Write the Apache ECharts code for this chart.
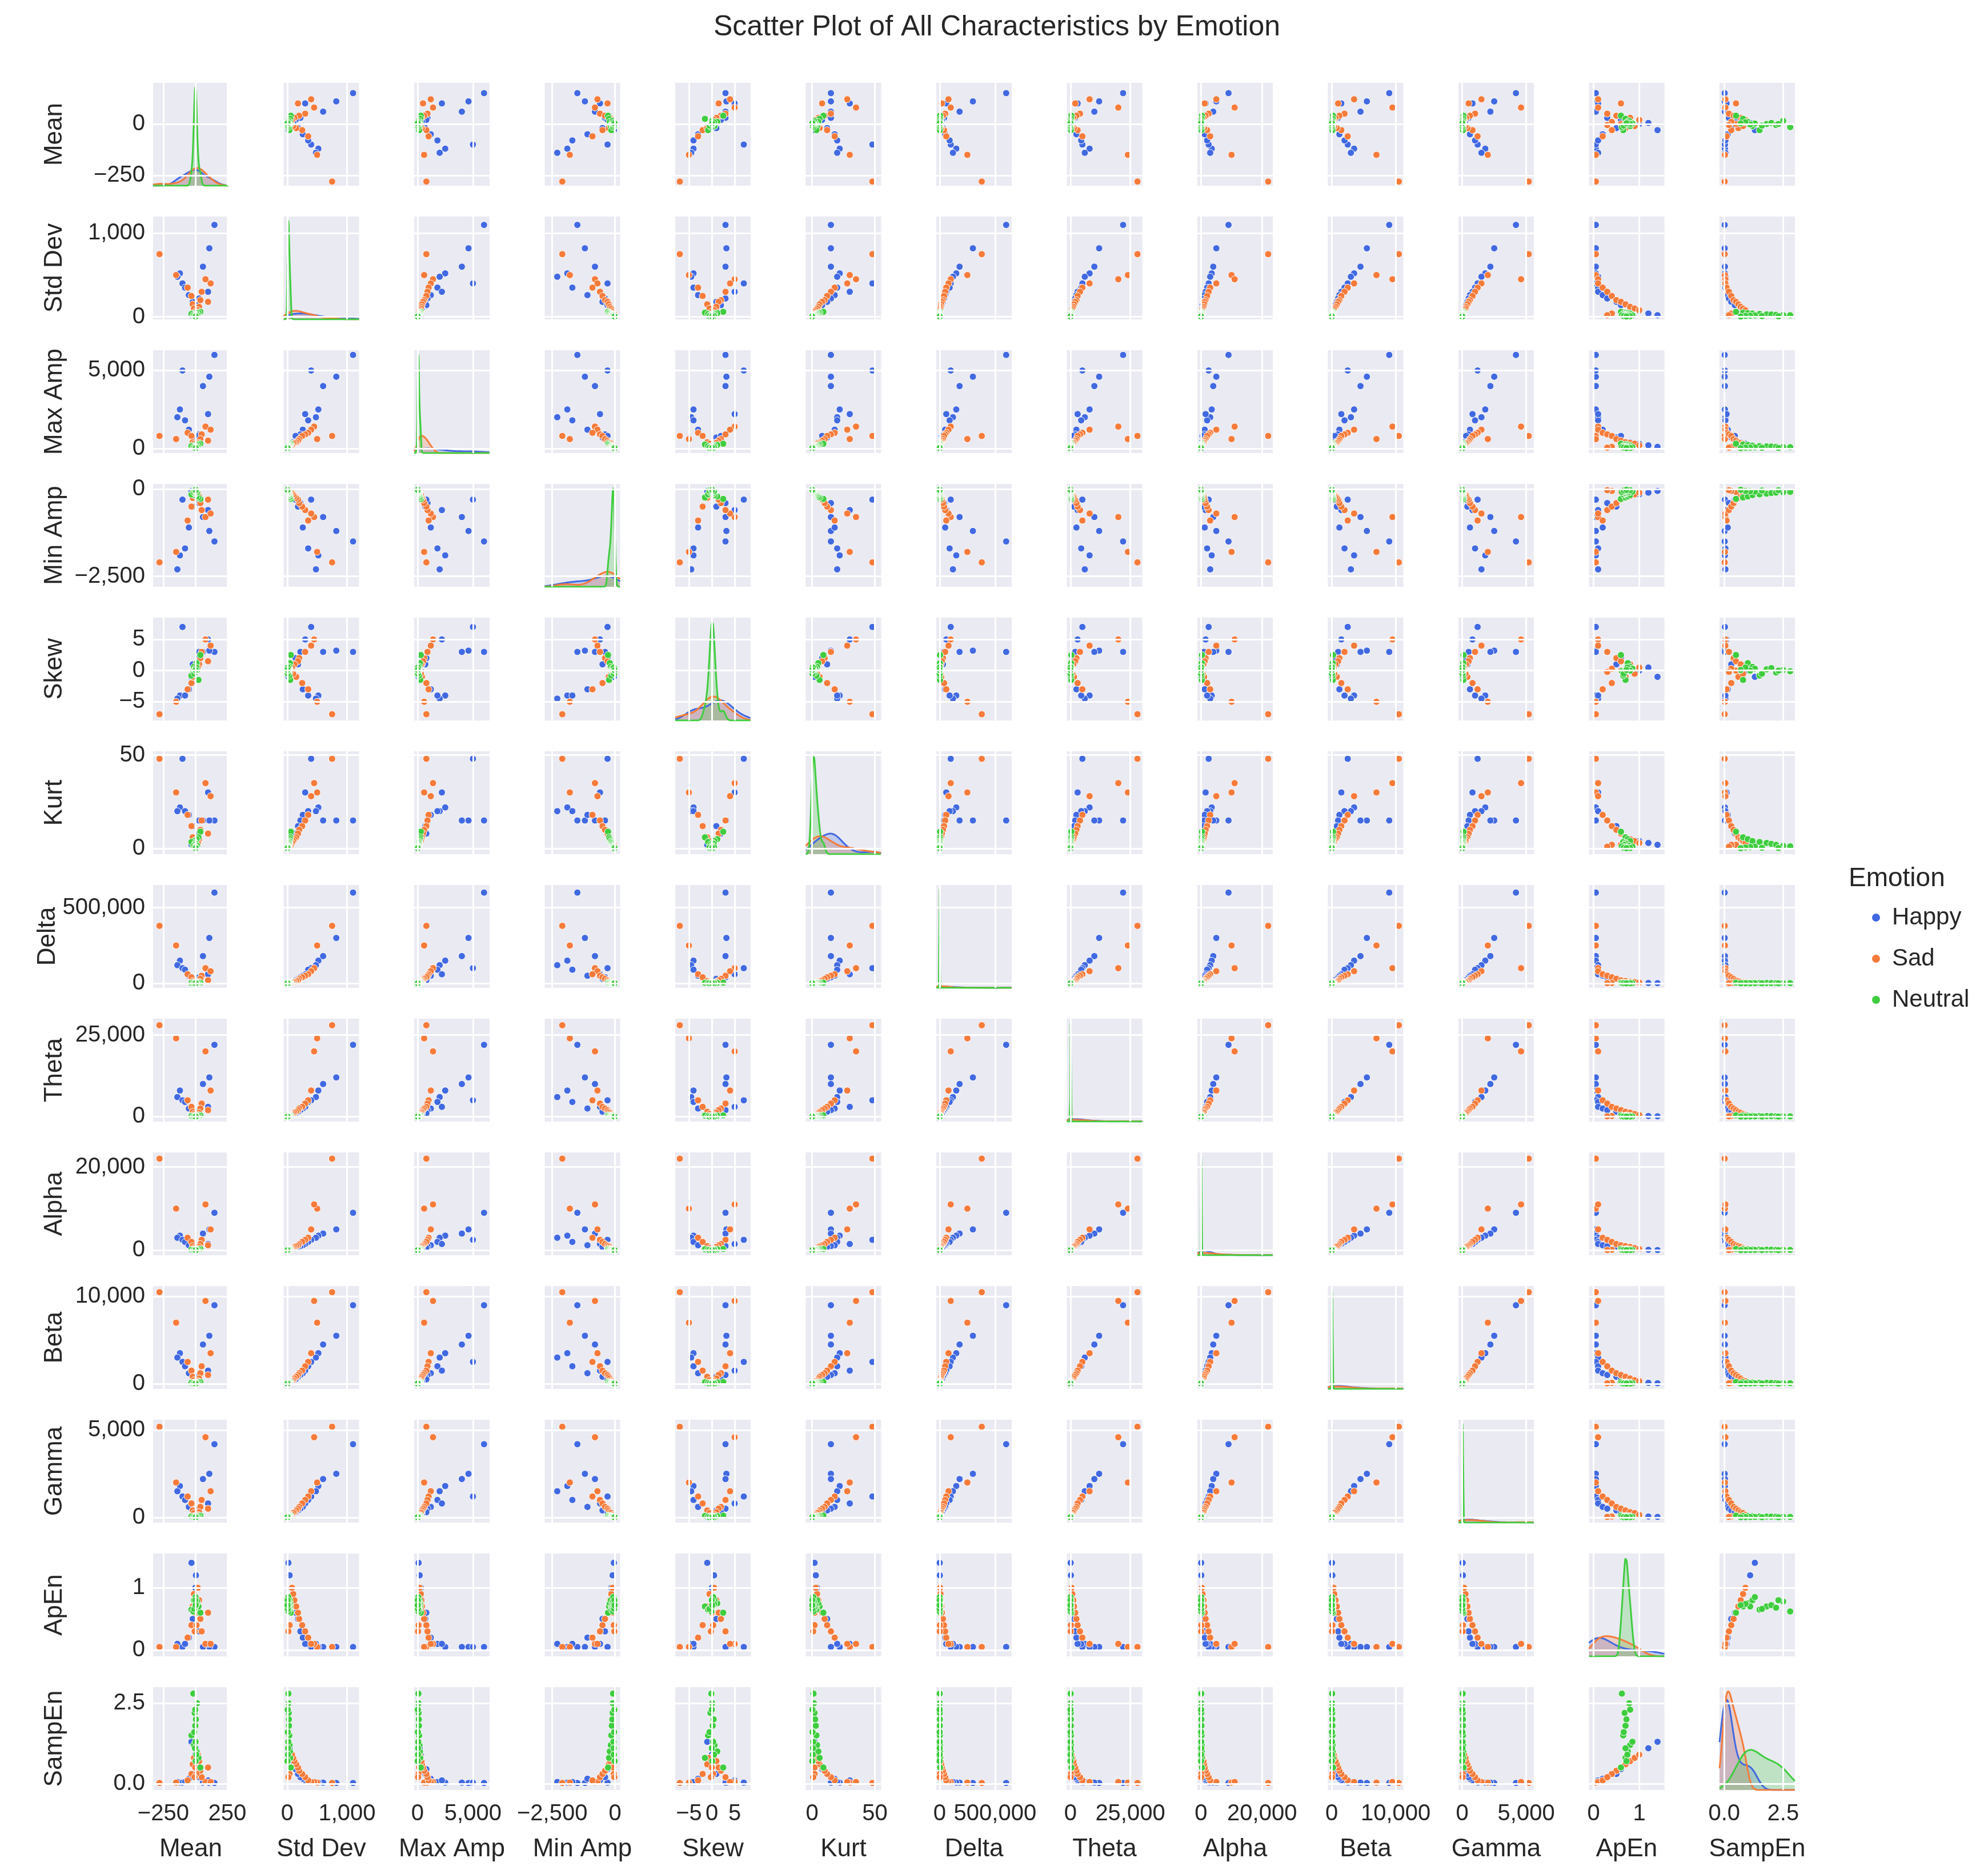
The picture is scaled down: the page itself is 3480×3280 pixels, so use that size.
<!DOCTYPE html>
<html><head><meta charset="utf-8">
<script src="https://cdn.jsdelivr.net/npm/echarts@6/dist/echarts.min.js"></script>
<style>html,body{margin:0;padding:0;background:#fff}#c{width:3480px;height:3280px}</style>
</head><body><div id="c"></div>
<script>
const variables = ['Mean','Std Dev','Max Amp','Min Amp','Skew','Kurt','Delta','Theta','Alpha','Beta','Gamma','ApEn','SampEn'];
const emotions = ['Happy','Sad','Neutral'];
const colors = ['#4169e1','#f57b3a','#3fcd3f'];

const meanHappy = [150,110,60,-120,-140,-100,-80,100,-50,30,-20,20,10,0,5,-30];
const meanSad = [-280,-150,80,120,-60,50,-30,40,100,-20,30,-10,20,0,10,-5];
const meanNeutral = [40,25,10,-10,-30,0,5,-5,15,-15,2,-2,8,-8,0,3];
const stdHappy = [1100,820,600,520,480,400,350,300,260,220,180,140,100,70,40,20];
const stdSad = [750,500,450,400,350,300,250,200,180,150,120,100,80,60,40,20];
const stdNeutral = [60,50,45,40,35,30,28,25,22,20,18,15,12,10,8,5];
const maxHappy = [6000,4600,4000,2500,2000,5000,1800,2200,1200,900,700,800,400,300,200,100];
const maxSad = [800,600,1400,1200,1000,900,800,600,500,400,350,300,200,150,100,50];
const maxNeutral = [300,250,220,180,150,130,120,100,90,80,70,60,50,40,30,20];
const minHappy = [-1500,-1200,-800,-1900,-2300,-300,-1700,-600,-1100,-400,-500,-300,-200,-150,-100,-50];
const minSad = [-2100,-1800,-800,-700,-900,-600,-500,-400,-300,-250,-200,-150,-100,-80,-50,-30];
const minNeutral = [-280,-240,-210,-170,-150,-130,-110,-100,-90,-80,-70,-60,-50,-40,-30,-20];
const skewHappy = [3,3.2,3,-4,-4.5,7,-4,5,-3,3,1,2,1,0,0.5,-1];
const skewSad = [-7,-5,5,4,-3,3,-2,2,1.5,-1,1,-0.5,0.5,0,0.3,-0.2];
const skewNeutral = [2.5,-1.5,1.2,0.6,-0.8,0.2,0.4,-0.3,0.1,-0.1,0.3,0,0.5,-0.5,0,0.1];
const kurtHappy = [15,15,15,22,20,48,20,30,18,15,12,8,5,4,3,2];
const kurtSad = [48,30,35,28,18,15,12,10,8,6,5,4,3,2,2,1];
const kurtNeutral = [9,6,5,4,3.5,3,2.5,2,1.5,1.2,1,0.8,0.6,0.4,0.3,0.2];
const deltaHappy = [600000,300000,180000,150000,120000,100000,90000,60000,50000,40000,30000,20000,10000,5000,2000,1000];
const deltaSad = [380000,250000,100000,80000,60000,50000,40000,30000,20000,15000,10000,8000,5000,3000,2000,1000];
const deltaNeutral = [4000,3200,2800,2400,2000,1700,1500,1300,1100,900,800,600,500,400,300,200];
const thetaHappy = [22000,12000,10000,8000,6000,5000,4500,3000,2500,2000,1500,1000,600,300,200,100];
const thetaSad = [28000,24000,20000,8000,5000,4000,3000,2500,2000,1500,1200,800,500,300,200,100];
const thetaNeutral = [400,320,280,240,200,170,150,130,110,90,80,60,50,40,30,20];
const alphaHappy = [9000,5000,4000,3500,3000,2500,2000,1500,1200,1000,800,500,300,200,100,50];
const alphaSad = [22000,10000,11000,5000,3000,2500,2000,1500,1200,1000,800,500,300,200,100,50];
const alphaNeutral = [300,250,220,190,160,140,120,100,90,80,70,60,50,40,30,20];
const betaHappy = [9000,5500,4500,3500,3000,2500,2000,1500,1200,1000,800,500,300,200,100,50];
const betaSad = [10500,7000,9500,3500,2500,2000,1500,1200,1000,800,600,400,300,200,100,50];
const betaNeutral = [200,170,150,130,110,100,90,80,70,60,50,40,30,25,20,15];
const gammaHappy = [4200,2500,2200,1800,1500,1200,1000,800,600,500,400,300,200,100,50,30];
const gammaSad = [5200,2000,4600,1500,1200,1000,800,600,500,400,300,250,150,100,50,30];
const gammaNeutral = [100,85,75,65,55,50,45,40,35,30,25,20,15,12,10,8];
const apenHappy = [0.05,0.05,0.05,0.05,0.1,0.05,0.1,0.1,0.2,0.3,0.5,0.6,0.8,1.0,1.2,1.4];
const apenSad = [0.05,0.05,0.1,0.1,0.2,0.3,0.4,0.5,0.6,0.7,0.8,0.9,1.0,0.6,0.4,0.3];
const apenNeutral = [0.6,0.7,0.75,0.8,0.65,0.7,0.72,0.68,0.78,0.62,0.85,0.7,0.74,0.66,0.8,0.72];
const sampenHappy = [0.02,0.02,0.03,0.03,0.05,0.03,0.05,0.1,0.15,0.2,0.3,0.45,0.7,0.9,1.1,1.3];
const sampenSad = [0.02,0.03,0.05,0.05,0.1,0.2,0.3,0.4,0.5,0.6,0.7,0.8,0.9,0.5,0.3,0.2];
const sampenNeutral = [0.5,0.8,1.0,1.2,1.5,1.8,2.0,2.2,2.5,2.8,1.3,1.1,0.9,1.6,2.3,0.7];

const xRanges = [[-330,260],[-60,1200],[-300,6500],[-2800,200],[-8,8.5],[-5,55],[-30000,650000],[-1500,30000],[-1200,23500],[-600,11200],[-300,5600],[-0.1,1.55],[-0.2,3.0]];
const yRanges = [[-300,200],[-30,1200],[-300,6300],[-2800,150],[-8,8.5],[-3,52],[-30000,650000],[-1500,30000],[-1200,23500],[-600,11200],[-300,5600],[-0.1,1.55],[-0.2,3.0]];
const xTicks = [[-250,0,250],[0,1000],[0,5000],[-2500,0],[-5,0,5],[0,50],[0,500000],[0,25000],[0,20000],[0,10000],[0,5000],[0,1],[0,2.5]];
const yTicks = [[-250,0],[0,1000],[0,5000],[-2500,0],[-5,0,5],[0,50],[0,500000],[0,25000],[0,20000],[0,10000],[0,5000],[0,1],[0,2.5]];

const table = [
 [meanHappy,meanSad,meanNeutral],[stdHappy,stdSad,stdNeutral],[maxHappy,maxSad,maxNeutral],[minHappy,minSad,minNeutral],
 [skewHappy,skewSad,skewNeutral],[kurtHappy,kurtSad,kurtNeutral],[deltaHappy,deltaSad,deltaNeutral],[thetaHappy,thetaSad,thetaNeutral],
 [alphaHappy,alphaSad,alphaNeutral],[betaHappy,betaSad,betaNeutral],[gammaHappy,gammaSad,gammaNeutral],[apenHappy,apenSad,apenNeutral],[sampenHappy,sampenSad,sampenNeutral]];

function fmt(v, idx){
  let s = idx === 12 ? v.toFixed(1) : v.toLocaleString('en-US');
  return s.replace('-', '\u2212');
}
const FONT = 'Liberation Sans';
const grids=[], xAxes=[], yAxes=[], series=[];
const N = variables.length;
const total = table[0].reduce((a,b)=>a+b.length,0);
function kde(vals, lo, hi){
  const n = vals.length, m = vals.reduce((a,b)=>a+b,0)/n;
  const sd = Math.sqrt(vals.reduce((a,b)=>a+(b-m)*(b-m),0)/(n-1));
  const bw = sd * Math.pow(n,-0.2);
  const out=[]; const steps=240;
  for(let i=0;i<=steps;i++){
    const x = lo+(hi-lo)*i/steps; let d=0;
    for(const v of vals){ const z=(x-v)/bw; d+=Math.exp(-0.5*z*z); }
    d = d/(n*bw*Math.sqrt(2*Math.PI)) * (n/total);
    out.push([x,d]);
  }
  return out;
}
for(let r=0;r<N;r++){
  for(let c=0;c<N;c++){
    const gi = grids.length;
    grids.push({left:268+c*228.5, top:145+r*234, width:132, height:180, show:true, backgroundColor:'#eaeaf2', borderWidth:0});
    xAxes.push({type:'value', gridIndex:gi, min:xRanges[c][0], max:xRanges[c][1],
      axisLine:{show:false}, axisTick:{show:false}, splitLine:{show:false},
      axisLabel:{show:r===N-1, hideOverlap:false, showMinLabel:true, showMaxLabel:true, customValues:xTicks[c], formatter:v=>fmt(v,c), fontFamily:FONT, fontSize:40, color:'#262626', margin:22},
      name: r===N-1 ? variables[c] : '', nameLocation:'middle', nameGap:82, nameTextStyle:{fontFamily:FONT, fontSize:44, color:'#262626'}});
    const ya = yAxes.length;
    yAxes.push({type:'value', gridIndex:gi, min:yRanges[r][0], max:yRanges[r][1],
      axisLine:{show:false}, axisTick:{show:false}, splitLine:{show:false},
      axisLabel:{show:c===0, hideOverlap:false, customValues:yTicks[r], formatter:v=>fmt(v,r), fontFamily:FONT, fontSize:40, color:'#262626', margin:14},
      name: c===0 ? variables[r] : '', nameLocation:'middle', nameGap:150, nameRotate:90, nameTextStyle:{fontFamily:FONT, fontSize:44, color:'#262626'}});
    const ml = [];
    xTicks[c].forEach(v=>ml.push({xAxis:v}));
    yTicks[r].forEach(v=>ml.push({yAxis:v}));
    series.push({type:'scatter', xAxisIndex:gi, yAxisIndex:ya, data:[], silent:true, z:1,
      markLine:{silent:true, symbol:'none', label:{show:false}, lineStyle:{color:'#ffffff', width:3, type:'solid'}, data:ml, animation:false}});
    if(r===c){
      const yb = yAxes.length;
      const curves = table[c].map(v=>kde(v, xRanges[c][0], xRanges[c][1]));
      let mx = 0; curves.forEach(cv=>cv.forEach(p=>{if(p[1]>mx)mx=p[1];}));
      yAxes.push({type:'value', gridIndex:gi, min:0, max:mx*1.04, show:false});
      curves.forEach((cv,e)=>{
        series.push({type:'line', name:emotions[e], xAxisIndex:gi, yAxisIndex:yb, data:cv, showSymbol:false, symbol:'none', z:2,
          lineStyle:{color:colors[e], width:3}, itemStyle:{color:colors[e]}, areaStyle:{color:colors[e], opacity:0.25}});
      });
    } else {
      for(let e=0;e<3;e++){
        const xs = table[c][e], ys = table[r][e];
        series.push({type:'scatter', name:emotions[e], xAxisIndex:gi, yAxisIndex:ya, z:2,
          data: xs.map((x,i)=>[x, ys[i]]), symbolSize:12,
          itemStyle:{color:colors[e], borderColor:'#ffffff', borderWidth:1, opacity:1}});
      }
    }
  }
}
const chart = echarts.init(document.getElementById('c'));
chart.setOption({
  animation:false,
  backgroundColor:'#ffffff',
  title:{text:'Scatter Plot of All Characteristics by Emotion', left:1740, top:18, textAlign:'center',
    textStyle:{fontFamily:FONT, fontSize:50, fontWeight:'normal', color:'#262626'}},
  legend:{data:emotions, orient:'vertical', left:3272, top:1580, icon:'circle', itemWidth:14, itemHeight:14, itemGap:30,
    textStyle:{fontFamily:FONT, fontSize:42, color:'#262626', padding:[0,0,0,16]}},
  graphic:[{type:'text', left:3236, top:1515, style:{text:'Emotion', font:'46px "Liberation Sans"', fill:'#262626'}}],
  grid:grids, xAxis:xAxes, yAxis:yAxes, series:series
});
</script></body></html>
